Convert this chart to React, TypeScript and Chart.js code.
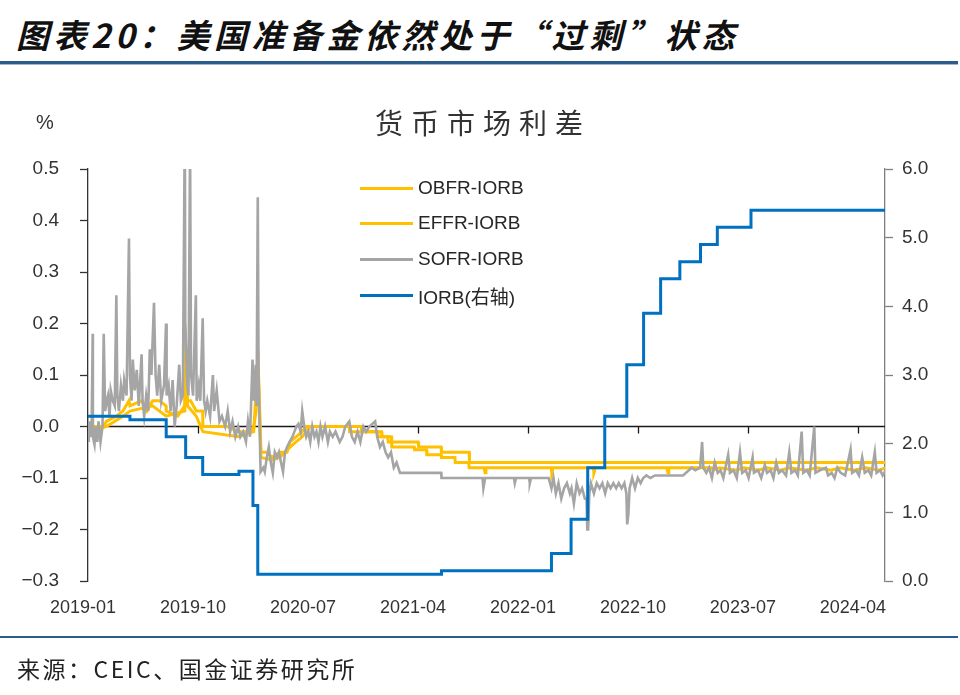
import React, { useEffect, useRef } from "react";
import { Chart, registerables } from "chart.js";

Chart.register(...registerables);

// ---------------- data ----------------
const xTickLabels = ["2019-01", "2019-10", "2020-07", "2021-04", "2022-01", "2022-10", "2023-07", "2024-04"];
const xStartMonth = 0.6; // mid-Jan 2019 (months since 2019-01-01)
const xEndMonth = 65.82;
const xTickStepMonths = 9;

const leftMin = -0.3;
const leftMax = 0.5;
const rightMin = 0;
const rightMax = 6;

// IORB (IOER before 2021-07), %, right axis: change dates
const iorb: [string, number][] = [
  ["2019-01-17", 2.4], ["2019-05-02", 2.35], ["2019-08-01", 2.1], ["2019-09-19", 1.8],
  ["2019-10-31", 1.55], ["2020-01-30", 1.6], ["2020-03-04", 1.1], ["2020-03-16", 0.1],
  ["2021-06-17", 0.15], ["2022-03-17", 0.4], ["2022-05-05", 0.9], ["2022-06-16", 1.65],
  ["2022-07-28", 2.4], ["2022-09-22", 3.15], ["2022-11-03", 3.9], ["2022-12-15", 4.4],
  ["2023-02-02", 4.65], ["2023-03-23", 4.9], ["2023-05-04", 5.15], ["2023-07-27", 5.4],
  ["2024-06-28", 5.4],
];

// SOFR - IORB, %
const sofrIorb: [string, number][] = [
  ["2019-01-17", 0.02], ["2019-01-21", -0.03], ["2019-01-24", 0.01], ["2019-01-28", -0.02],
  ["2019-01-31", 0.18], ["2019-02-01", -0.02], ["2019-02-05", -0.035], ["2019-02-08", 0.0],
  ["2019-02-12", -0.03], ["2019-02-15", 0.01], ["2019-02-20", -0.03], ["2019-02-25", 0.0],
  ["2019-02-28", 0.18], ["2019-03-01", 0.03], ["2019-03-05", 0.05], ["2019-03-08", 0.06],
  ["2019-03-12", 0.02], ["2019-03-15", 0.07], ["2019-03-20", 0.05], ["2019-03-25", 0.04],
  ["2019-03-29", 0.255], ["2019-04-01", 0.06], ["2019-04-05", 0.03], ["2019-04-10", 0.08],
  ["2019-04-15", 0.05], ["2019-04-18", 0.09], ["2019-04-24", 0.06], ["2019-04-30", 0.365],
  ["2019-05-02", 0.1], ["2019-05-06", 0.05], ["2019-05-09", 0.13], ["2019-05-14", 0.07],
  ["2019-05-19", 0.11], ["2019-05-24", 0.04], ["2019-05-31", 0.14], ["2019-06-03", 0.05],
  ["2019-06-07", 0.02], ["2019-06-12", 0.06], ["2019-06-17", 0.03], ["2019-06-21", 0.15],
  ["2019-06-25", 0.1], ["2019-07-01", 0.24], ["2019-07-05", 0.1], ["2019-07-09", 0.06],
  ["2019-07-14", 0.12], ["2019-07-19", 0.05], ["2019-07-26", 0.08], ["2019-07-31", 0.2],
  ["2019-08-02", 0.06], ["2019-08-07", 0.08], ["2019-08-12", 0.03], ["2019-08-17", 0.09],
  ["2019-08-22", 0.0], ["2019-08-27", 0.04], ["2019-09-03", 0.12], ["2019-09-07", 0.05],
  ["2019-09-12", 0.06], ["2019-09-17", 0.6], ["2019-09-18", 0.2], ["2019-09-23", 0.08],
  ["2019-09-26", 0.06], ["2019-09-30", 0.55], ["2019-10-02", 0.1], ["2019-10-07", 0.06],
  ["2019-10-14", 0.255], ["2019-10-16", 0.05], ["2019-10-21", 0.08], ["2019-10-25", 0.05],
  ["2019-10-31", 0.21], ["2019-11-04", 0.05], ["2019-11-08", 0.03], ["2019-11-12", 0.05],
  ["2019-11-19", 0.02], ["2019-11-26", 0.1], ["2019-11-29", 0.03], ["2019-12-05", 0.07],
  ["2019-12-12", 0.01], ["2019-12-18", 0.02], ["2019-12-26", 0.0], ["2020-01-02", 0.03],
  ["2020-01-08", -0.01], ["2020-01-14", 0.01], ["2020-01-21", -0.02], ["2020-01-28", 0.0],
  ["2020-02-03", -0.02], ["2020-02-10", -0.01], ["2020-02-17", -0.03], ["2020-02-22", 0.01],
  ["2020-02-27", -0.02], ["2020-03-03", 0.13], ["2020-03-06", 0.05], ["2020-03-11", 0.12],
  ["2020-03-13", 0.04], ["2020-03-16", 0.445], ["2020-03-18", 0.1], ["2020-03-20", 0.02],
  ["2020-03-23", -0.088], ["2020-03-30", -0.08], ["2020-04-03", -0.088], ["2020-04-08", -0.06],
  ["2020-04-13", -0.04], ["2020-04-18", -0.07], ["2020-04-23", -0.09], ["2020-04-28", -0.05],
  ["2020-05-03", -0.06], ["2020-05-08", -0.05], ["2020-05-13", -0.07], ["2020-05-18", -0.088],
  ["2020-05-23", -0.05], ["2020-05-28", -0.04], ["2020-06-04", -0.03], ["2020-06-11", -0.02],
  ["2020-06-16", -0.01], ["2020-06-21", 0.0], ["2020-06-26", 0.005], ["2020-07-01", -0.01],
  ["2020-07-05", 0.03], ["2020-07-10", 0.0], ["2020-07-15", -0.02], ["2020-07-20", -0.01],
  ["2020-07-25", -0.03], ["2020-07-30", 0.0], ["2020-08-05", -0.02], ["2020-08-10", -0.01],
  ["2020-08-15", -0.03], ["2020-08-20", 0.0], ["2020-08-25", -0.02], ["2020-09-01", 0.0],
  ["2020-09-08", -0.03], ["2020-09-13", -0.01], ["2020-09-20", -0.02], ["2020-09-27", -0.01],
  ["2020-10-07", -0.03], ["2020-10-14", -0.02], ["2020-10-21", 0.0], ["2020-10-31", 0.01],
  ["2020-11-07", -0.02], ["2020-11-14", -0.03], ["2020-11-21", -0.01], ["2020-11-28", -0.03],
  ["2020-12-05", 0.0], ["2020-12-12", -0.01], ["2020-12-20", 0.0], ["2021-01-04", 0.01],
  ["2021-01-09", -0.02], ["2021-01-16", -0.04], ["2021-01-23", -0.03], ["2021-01-30", -0.05],
  ["2021-02-06", -0.06], ["2021-02-13", -0.05], ["2021-02-20", -0.08], ["2021-02-27", -0.07],
  ["2021-03-05", -0.09], ["2021-06-16", -0.09], ["2021-06-17", -0.1], ["2021-09-28", -0.1],
  ["2021-09-30", -0.12], ["2021-10-04", -0.1], ["2021-12-15", -0.1], ["2021-12-17", -0.11],
  ["2021-12-20", -0.1], ["2022-01-22", -0.1], ["2022-01-24", -0.11], ["2022-01-27", -0.1],
  ["2022-03-10", -0.1], ["2022-03-17", -0.12], ["2022-03-22", -0.1], ["2022-03-28", -0.13],
  ["2022-04-04", -0.11], ["2022-04-11", -0.14], ["2022-04-18", -0.12], ["2022-04-25", -0.11],
  ["2022-05-02", -0.13], ["2022-05-06", -0.12], ["2022-05-12", -0.15], ["2022-05-19", -0.11],
  ["2022-05-26", -0.13], ["2022-06-02", -0.12], ["2022-06-09", -0.14], ["2022-06-13", -0.14],
  ["2022-06-15", -0.2], ["2022-06-17", -0.2], ["2022-06-20", -0.13], ["2022-06-24", -0.11],
  ["2022-07-01", -0.13], ["2022-07-08", -0.11], ["2022-07-15", -0.12], ["2022-07-22", -0.11],
  ["2022-07-29", -0.13], ["2022-08-05", -0.11], ["2022-08-12", -0.12], ["2022-08-19", -0.11],
  ["2022-08-26", -0.12], ["2022-09-02", -0.11], ["2022-09-09", -0.12], ["2022-09-16", -0.11],
  ["2022-09-21", -0.13], ["2022-09-23", -0.19], ["2022-09-26", -0.17], ["2022-09-29", -0.12],
  ["2022-10-05", -0.1], ["2022-10-12", -0.12], ["2022-10-19", -0.1], ["2022-10-26", -0.11],
  ["2022-11-02", -0.1], ["2022-11-10", -0.095], ["2022-11-20", -0.1], ["2022-12-01", -0.095],
  ["2022-12-20", -0.095], ["2023-01-15", -0.095], ["2023-02-10", -0.095], ["2023-03-01", -0.08],
  ["2023-03-10", -0.085], ["2023-03-22", -0.08], ["2023-03-27", -0.03], ["2023-03-30", -0.08],
  ["2023-04-07", -0.09], ["2023-04-14", -0.08], ["2023-04-21", -0.1], ["2023-04-28", -0.07],
  ["2023-05-05", -0.09], ["2023-05-12", -0.085], ["2023-05-19", -0.1], ["2023-05-31", -0.055],
  ["2023-06-05", -0.09], ["2023-06-14", -0.085], ["2023-06-22", -0.1], ["2023-06-30", -0.05],
  ["2023-07-05", -0.09], ["2023-07-14", -0.085], ["2023-07-21", -0.1], ["2023-07-31", -0.06],
  ["2023-08-04", -0.09], ["2023-08-14", -0.085], ["2023-08-22", -0.1], ["2023-08-31", -0.075],
  ["2023-09-06", -0.09], ["2023-09-15", -0.085], ["2023-09-22", -0.1], ["2023-09-29", -0.07],
  ["2023-10-05", -0.09], ["2023-10-13", -0.085], ["2023-10-23", -0.095], ["2023-10-31", -0.05],
  ["2023-11-06", -0.09], ["2023-11-15", -0.085], ["2023-11-22", -0.095], ["2023-12-01", -0.01],
  ["2023-12-05", -0.09], ["2023-12-14", -0.085], ["2023-12-21", -0.095], ["2024-01-02", 0.0],
  ["2024-01-05", -0.09], ["2024-01-16", -0.085], ["2024-01-31", -0.08], ["2024-02-06", -0.095],
  ["2024-02-15", -0.09], ["2024-02-22", -0.1], ["2024-02-29", -0.08], ["2024-03-07", -0.09],
  ["2024-03-18", -0.095], ["2024-04-01", -0.045], ["2024-04-05", -0.09], ["2024-04-15", -0.085],
  ["2024-04-22", -0.095], ["2024-04-30", -0.06], ["2024-05-06", -0.09], ["2024-05-15", -0.085],
  ["2024-05-22", -0.095], ["2024-05-31", -0.05], ["2024-06-05", -0.09], ["2024-06-14", -0.085],
  ["2024-06-20", -0.095], ["2024-06-28", -0.085],
];

// EFFR - IORB, %
const effrIorb: [string, number][] = [
  ["2019-01-17", 0.0], ["2019-02-28", 0.0], ["2019-03-04", 0.01], ["2019-03-29", 0.02],
  ["2019-04-15", 0.03], ["2019-04-30", 0.05], ["2019-05-02", 0.04], ["2019-05-31", 0.05],
  ["2019-06-14", 0.03], ["2019-06-28", 0.05], ["2019-07-15", 0.05], ["2019-07-31", 0.04],
  ["2019-08-01", 0.03], ["2019-08-30", 0.02], ["2019-09-16", 0.04], ["2019-09-17", 0.2],
  ["2019-09-18", 0.15], ["2019-09-19", 0.1], ["2019-09-24", 0.05], ["2019-10-01", 0.05],
  ["2019-10-15", 0.03], ["2019-10-31", 0.03], ["2019-11-01", 0.0], ["2019-12-31", 0.0],
  ["2020-01-30", -0.01], ["2020-02-28", -0.01], ["2020-03-06", 0.0], ["2020-03-12", 0.03],
  ["2020-03-16", 0.15], ["2020-03-20", 0.05], ["2020-03-24", -0.05], ["2020-04-10", -0.05],
  ["2020-04-20", -0.06], ["2020-05-10", -0.05], ["2020-05-28", -0.05], ["2020-06-05", -0.03],
  ["2020-06-20", -0.02], ["2020-07-05", -0.01], ["2020-07-15", 0.0], ["2020-11-30", 0.0],
  ["2020-12-01", -0.01], ["2021-01-10", -0.01], ["2021-01-11", -0.02], ["2021-02-05", -0.02],
  ["2021-02-06", -0.03], ["2021-04-20", -0.03], ["2021-04-21", -0.04], ["2021-06-16", -0.04],
  ["2021-06-17", -0.05], ["2021-08-25", -0.05], ["2021-08-26", -0.07], ["2021-12-31", -0.07],
  ["2022-01-03", -0.07], ["2022-12-30", -0.07], ["2023-01-03", -0.07], ["2024-06-28", -0.07],
];

// OBFR - IORB, %
const obfrIorb: [string, number][] = [
  ["2019-01-17", -0.01], ["2019-03-04", 0.0], ["2019-04-15", 0.02], ["2019-05-02", 0.03],
  ["2019-06-28", 0.04], ["2019-08-01", 0.02], ["2019-09-16", 0.03], ["2019-09-17", 0.19],
  ["2019-09-19", 0.09], ["2019-09-24", 0.04], ["2019-10-15", 0.02], ["2019-11-01", -0.01],
  ["2020-01-30", -0.02], ["2020-03-06", -0.01], ["2020-03-16", 0.13], ["2020-03-20", 0.04],
  ["2020-03-24", -0.06], ["2020-04-20", -0.065], ["2020-05-10", -0.06], ["2020-06-05", -0.04],
  ["2020-06-20", -0.03], ["2020-07-05", -0.02], ["2020-07-25", 0.0], ["2020-10-31", 0.0],
  ["2020-11-01", -0.01], ["2021-01-20", -0.01], ["2021-01-21", -0.02], ["2021-02-14", -0.02],
  ["2021-02-15", -0.04], ["2021-04-10", -0.04], ["2021-04-11", -0.045], ["2021-05-10", -0.045],
  ["2021-05-11", -0.055], ["2021-06-16", -0.055], ["2021-06-17", -0.06], ["2021-07-20", -0.06],
  ["2021-07-21", -0.07], ["2021-08-24", -0.07], ["2021-08-25", -0.08], ["2021-10-01", -0.08],
  ["2021-10-04", -0.09], ["2021-10-06", -0.08], ["2022-03-16", -0.08], ["2022-03-18", -0.09],
  ["2022-03-21", -0.08], ["2022-06-30", -0.08], ["2022-07-01", -0.09], ["2022-07-05", -0.08],
  ["2022-12-30", -0.08], ["2023-01-03", -0.09], ["2023-01-05", -0.08], ["2023-04-20", -0.08],
  ["2023-04-24", -0.085], ["2023-05-10", -0.08], ["2023-06-20", -0.085], ["2023-07-10", -0.08],
  ["2023-08-15", -0.085], ["2023-09-05", -0.08], ["2023-10-10", -0.085], ["2023-11-01", -0.08],
  ["2023-12-12", -0.085], ["2024-01-08", -0.08], ["2024-02-13", -0.085], ["2024-03-05", -0.08],
  ["2024-04-10", -0.085], ["2024-05-08", -0.08], ["2024-06-11", -0.085], ["2024-06-28", -0.08],
];

const seriesNames = ["OBFR-IORB", "EFFR-IORB", "SOFR-IORB", "IORB(右轴)"];
const seriesColors = ["#FFC000", "#FFC000", "#A5A5A5", "#0070C0"];

// ---------------- helpers ----------------
function monthIndex(d: string): number {
  const [y, m, day] = d.split("-").map(Number);
  return (y - 2019) * 12 + (m - 1) + (day - 1) / 30.44;
}
const toPoints = (s: [string, number][]) => s.map(([d, v]) => ({ x: monthIndex(d), y: v }));
const fmt = (v: number) => v.toFixed(1).replace("-", "−");

const zeroLinePlugin = {
  id: "zeroLine",
  beforeDatasetsDraw(chart: any) {
    const { ctx, chartArea, scales } = chart;
    const y0 = scales.y.getPixelForValue(0);
    ctx.save();
    ctx.strokeStyle = "#1a1a1a";
    ctx.lineWidth = 1.3;
    ctx.beginPath();
    ctx.moveTo(chartArea.left, y0);
    ctx.lineTo(chartArea.right, y0);
    scales.x.ticks.forEach((t: any) => {
      const px = Math.round(scales.x.getPixelForValue(t.value)) + 0.5;
      ctx.moveTo(px, y0);
      ctx.lineTo(px, y0 + 7);
    });
    ctx.stroke();
    ctx.restore();
  },
};

const FONT = "'Liberation Sans', Arial, 'Noto Sans CJK SC', sans-serif";
const CJK = "'Noto Sans CJK SC', 'Noto Sans CJK JP', sans-serif";

export default function App() {
  const canvasRef = useRef<HTMLCanvasElement | null>(null);

  useEffect(() => {
    if (!canvasRef.current) return;
    const lineDs = (i: number, data: any[], yAxisID: string, width: number, extra: any = {}) => ({
      label: seriesNames[i],
      data,
      yAxisID,
      borderColor: seriesColors[i],
      backgroundColor: seriesColors[i],
      borderWidth: width,
      pointRadius: 0,
      tension: 0,
      fill: false,
      ...extra,
    });
    const chart = new Chart(canvasRef.current, {
      type: "line",
      data: {
        datasets: [
          lineDs(3, toPoints(iorb), "y1", 3, { stepped: true }),
          lineDs(2, toPoints(sofrIorb), "y", 2.6),
          lineDs(1, toPoints(effrIorb), "y", 3),
          lineDs(0, toPoints(obfrIorb), "y", 3),
        ],
      },
      options: {
        animation: false,
        responsive: false,
        maintainAspectRatio: false,
        layout: { padding: { top: 169, bottom: 74, left: 0, right: 0 } },
        plugins: { legend: { display: false }, tooltip: { enabled: false }, title: { display: false } },
        scales: {
          x: {
            type: "linear",
            min: xStartMonth,
            max: xEndMonth,
            grid: { display: false, drawTicks: false },
            border: { display: false },
            afterBuildTicks: (scale: any) => {
              scale.ticks = xTickLabels.map((_, i) => ({ value: xStartMonth + i * xTickStepMonths }));
            },
            afterFit: (scale: any) => {
              scale.height = 40;
            },
            ticks: {
              autoSkip: false,
              maxRotation: 0,
              minRotation: 0,
              padding: 16,
              labelOffset: -5,
              color: "#333333",
              font: { family: FONT, size: 18 },
              callback: (_v: any, i: number) => xTickLabels[i],
            },
          },
          y: {
            type: "linear",
            position: "left",
            min: leftMin,
            max: leftMax,
            grid: { drawOnChartArea: false, tickLength: 8, tickColor: "#333333", tickWidth: 1.3 },
            border: { display: true, color: "#333333", width: 1.3 },
            afterFit: (scale: any) => {
              scale.width = 88;
            },
            ticks: {
              stepSize: 0.1,
              padding: 21,
              color: "#333333",
              font: { family: FONT, size: 19 },
              callback: (v: any) => fmt(Number(v)),
            },
          },
          y1: {
            type: "linear",
            position: "right",
            min: rightMin,
            max: rightMax,
            grid: { drawOnChartArea: false, tickLength: 8, tickColor: "#7f7f7f", tickWidth: 1.3 },
            border: { display: true, color: "#7f7f7f", width: 1.3 },
            afterFit: (scale: any) => {
              scale.width = 75;
            },
            ticks: {
              stepSize: 1,
              padding: 9,
              color: "#333333",
              font: { family: FONT, size: 19 },
              callback: (v: any) => fmt(Number(v)),
            },
          },
        },
      },
      plugins: [zeroLinePlugin],
    } as any);
    return () => chart.destroy();
  }, []);

  const legendOrder = [0, 1, 2, 3];
  const legendRowY = [188, 223, 259, 295];

  return (
    <div style={{ position: "fixed", left: 0, top: 0, width: 960, height: 695, background: "#ffffff", overflow: "hidden" }}>
      <div
        style={{
          position: "absolute", left: 16, top: 12, fontFamily: CJK, fontWeight: 700, fontStyle: "italic",
          fontSize: 33, letterSpacing: 4.5, color: "#111", whiteSpace: "nowrap", lineHeight: "44px",
        }}
      >
        图表20：美国准备金依然处于“过剩”状态
      </div>
      <div style={{ position: "absolute", left: 0, top: 61, width: 958, height: 3, background: "#2B5C8A" }} />
      <div style={{ position: "absolute", left: 0, top: 64, width: 958, height: 1, background: "#9DB7D0" }} />

      <canvas ref={canvasRef} width={960} height={695} style={{ position: "absolute", left: 0, top: 0, width: 960, height: 695 }} />

      <div style={{ position: "absolute", left: 36, top: 108, fontFamily: FONT, fontSize: 20, color: "#333", lineHeight: "28px" }}>%</div>
      <div
        style={{
          position: "absolute", left: 375, top: 104, fontFamily: CJK, fontSize: 28, letterSpacing: 8,
          color: "#333", whiteSpace: "nowrap", lineHeight: "36px",
        }}
      >
        货币市场利差
      </div>

      {legendOrder.map((i, r) => (
        <div key={i} style={{ position: "absolute", left: 360, top: legendRowY[r] - 14, height: 28, display: "flex", alignItems: "center" }}>
          <div style={{ width: 53, height: 3, background: seriesColors[i] }} />
          <div style={{ marginLeft: 5, fontFamily: FONT, fontSize: 19, color: "#262626", whiteSpace: "nowrap" }}>{seriesNames[i]}</div>
        </div>
      ))}

      <div style={{ position: "absolute", left: 0, top: 636, width: 958, height: 2, background: "#2B5C8A" }} />
      <div
        style={{
          position: "absolute", left: 17, top: 652, fontFamily: CJK, fontSize: 23, letterSpacing: 2.5,
          color: "#222", whiteSpace: "nowrap", lineHeight: "32px",
        }}
      >
        来源：CEIC、国金证券研究所
      </div>
    </div>
  );
}
